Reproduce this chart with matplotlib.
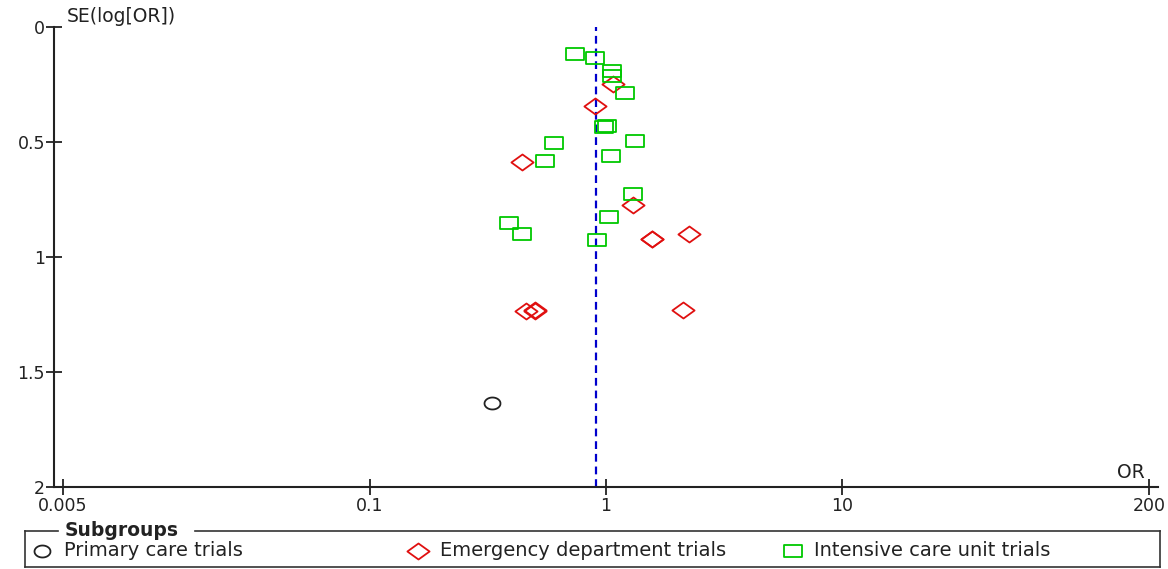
import matplotlib
matplotlib.use("Agg")
import matplotlib.pyplot as plt
from matplotlib.path import Path
from matplotlib.lines import Line2D
import numpy as np

# ---- data ----
primary_or = [0.33]
primary_se = [1.636]

ed_or = [1.07, 0.90, 0.44, 1.30, 1.57, 1.57, 2.25, 0.46, 0.50, 0.50, 2.12]
ed_se = [0.247, 0.343, 0.586, 0.772, 0.920, 0.922, 0.902, 1.236, 1.232, 1.234, 1.232]

icu_or = [0.74, 0.90, 1.06, 1.06, 1.20, 0.98, 1.01, 1.33, 0.60, 1.05, 0.55, 1.30, 1.03, 0.39, 0.44, 0.92]
icu_se = [0.117, 0.134, 0.191, 0.213, 0.286, 0.434, 0.430, 0.495, 0.503, 0.560, 0.581, 0.725, 0.824, 0.850, 0.898, 0.928]

pooled_or = 0.91

x_ticks = [0.005, 0.1, 1, 10, 200]
x_ticklabels = ["0.005", "0.1", "1", "10", "200"]
y_ticks = [0, 0.5, 1, 1.5, 2]
y_ticklabels = ["0", "0.5", "1", "1.5", "2"]

group_labels = ["Primary care trials", "Emergency department trials", "Intensive care unit trials"]

# ---- styles ----
GREEN = "#00c800"
RED = "#e01010"
BLUE = "#0000cc"
FONT = "DejaVu Sans"
plt.rcParams['font.family'] = [FONT]
TXT = "#222222"

rect_marker = Path([(-1, -0.72), (1, -0.72), (1, 0.72), (-1, 0.72), (-1, -0.72)],
                   [Path.MOVETO, Path.LINETO, Path.LINETO, Path.LINETO, Path.CLOSEPOLY])
diamond_marker = Path([(-1, 0), (0, 0.72), (1, 0), (0, -0.72), (-1, 0)],
                      [Path.MOVETO, Path.LINETO, Path.LINETO, Path.LINETO, Path.CLOSEPOLY])
t = np.linspace(0, 2 * np.pi, 60)
ellipse_marker = Path(np.column_stack([np.cos(t), 0.75 * np.sin(t)]))

W, H = 1168, 569
fig = plt.figure(figsize=(W / 100, H / 100), dpi=100)


def P(x, y):
    return x / W, 1 - y / H


ax_left, ax_right, ax_top, ax_bottom = 54, 1158, 27, 487
ax = fig.add_axes([ax_left / W, 1 - ax_bottom / H, (ax_right - ax_left) / W, (ax_bottom - ax_top) / H])
ax.set_xscale("log")
ax.set_xlim(0.00459, 218)
ax.set_ylim(2, 0)

ax.axvline(pooled_or, color=BLUE, lw=1.6, ls=(0, (3.5, 2.2)), zorder=1)

ax.plot(primary_or, primary_se, ls="none", marker=ellipse_marker, ms=11.5,
        mfc="none", mec=TXT, mew=1.3, zorder=3)
ax.plot(ed_or, ed_se, ls="none", marker=diamond_marker, ms=16,
        mfc="none", mec=RED, mew=1.3, zorder=3)
ax.plot(icu_or, icu_se, ls="none", marker=rect_marker, ms=12.5,
        mfc="none", mec=GREEN, mew=1.3, zorder=3)

for s in ["top", "right"]:
    ax.spines[s].set_visible(False)
for s in ["left", "bottom"]:
    ax.spines[s].set_linewidth(1.5)
    ax.spines[s].set_color(TXT)

ax.set_xticks(x_ticks)
ax.set_xticklabels(x_ticklabels)
ax.xaxis.set_minor_locator(matplotlib.ticker.NullLocator())
ax.set_yticks(y_ticks)
ax.set_yticklabels(y_ticklabels)
ax.tick_params(direction="inout", length=11, width=1.3, colors=TXT,
               labelsize=12.5, pad=1)
ax.tick_params(axis="x", pad=2)

fig.text(*P(67, 17), "SE(log[OR])", fontsize=13.5, color=TXT, va="center", ha="left")
fig.text(*P(1131, 473), "OR", fontsize=13.5, color=TXT, va="center", ha="center")

# ---- legend box (fieldset style) ----
bl, br, bt, bb = 25, 1160, 531, 567
lc = "#333333"
lw = 1.2
for xs, ys in [((bl, 58), (bt, bt)), ((195, br), (bt, bt)), ((br, br), (bt, bb)),
               ((br, bl), (bb, bb)), ((bl, bl), (bb, bt))]:
    p0 = P(xs[0], ys[0]); p1 = P(xs[1], ys[1])
    fig.add_artist(Line2D([p0[0], p1[0]], [p0[1], p1[1]], color=lc, lw=lw, transform=fig.transFigure))
fig.text(*P(65, 530), "Subgroups", fontsize=13.5, fontweight="bold", color=TXT,
         va="center", ha="left")

entry_y = 551
entries = [
    (42, 64, ellipse_marker, TXT, 11.5),
    (418, 440, diamond_marker, RED, 16),
    (793, 814, rect_marker, GREEN, 12.5),
]
for (mx, tx, mk, col, ms), lab in zip(entries, group_labels):
    px, py = P(mx, entry_y)
    fig.add_artist(Line2D([px], [py], ls="none", marker=mk, ms=ms, mfc="none", mec=col,
                          mew=1.3, transform=fig.transFigure))
    fig.text(*P(tx, entry_y), lab, fontsize=14, color=TXT, va="center", ha="left")

fig.savefig("out.png", dpi=100)
